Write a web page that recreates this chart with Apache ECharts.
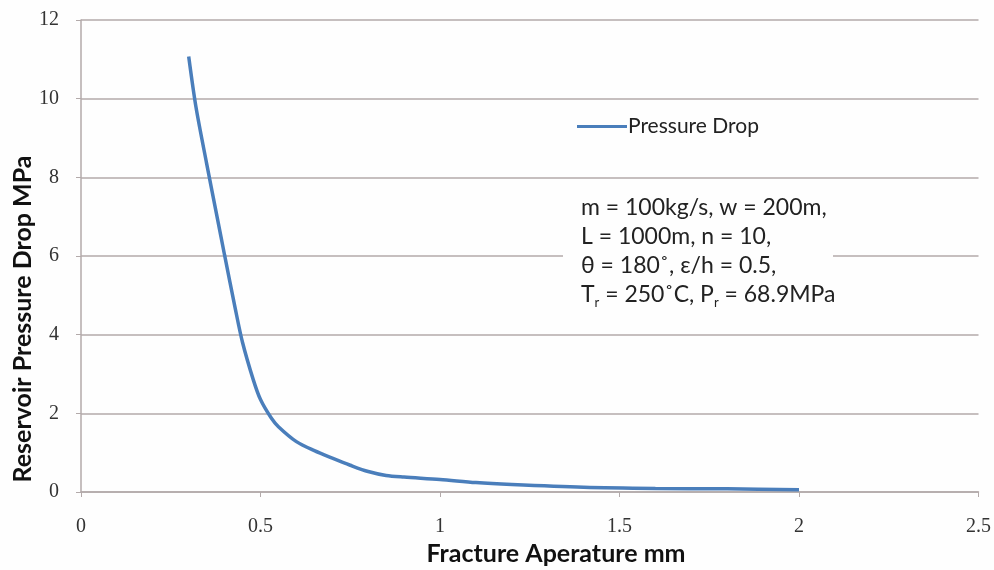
<!DOCTYPE html>
<html>
<head>
<meta charset="utf-8">
<script src="https://cdn.jsdelivr.net/npm/echarts@6/dist/echarts.min.js"></script>
<style>
  html, body { margin: 0; padding: 0; background: #fefefe; }
  #chart { width: 994px; height: 570px; }
</style>
</head>
<body>
<div id="chart"></div>
<script>
// fracture aperture (mm) vs reservoir pressure drop (MPa)
const aperture = [0.30, 0.32, 0.35, 0.38, 0.40, 0.43, 0.45, 0.48, 0.50, 0.53, 0.55, 0.60, 0.65,
    0.70, 0.75, 0.80, 0.85, 0.90, 1.00, 1.10, 1.20, 1.40, 1.60, 1.80, 2.00]
const pressureDrop = [11.07, 9.8, 8.35, 6.95, 6.02, 4.65, 3.8, 2.85, 2.35, 1.88, 1.66, 1.28, 1.05,
    0.86, 0.68, 0.52, 0.42, 0.38, 0.32, 0.24, 0.19, 0.12, 0.09, 0.08, 0.06]
const seriesName = 'Pressure Drop'
const xTitle = 'Fracture Aperature mm'
const yTitle = 'Reservoir Pressure Drop MPa'
const notes = [
    'm = 100kg/s, w = 200m,',
    'L = 1000m, n = 10,',
    'θ = 180˚, ε/h = 0.5,',
    'T{sub|r} = 250˚C, P{sub|r} = 68.9MPa'
]

const lineColor = '#4a7ebb'
const gridColor = '#b3aaaa'
const sansFont = 'Lato, "Open Sans", sans-serif'
const serifFont = '"Liberation Serif", "DejaVu Serif", serif'

const chart = echarts.init(document.getElementById('chart'))

const option = {
    backgroundColor: '#fefefe',
    animation: false,
    grid: {
        left: 81,
        right: 12,
        top: 20,
        bottom: 78
    },
    legend: {
        left: 572,
        top: 111,
        icon: 'rect',
        itemWidth: 50,
        itemHeight: 3,
        itemGap: 4,
        textStyle: {
            fontFamily: sansFont,
            fontSize: 21,
            color: '#222',
            padding: [0, 0, 0, -4]
        },
        data: [seriesName]
    },
    xAxis: {
        type: 'value',
        min: 0,
        max: 2.5,
        interval: 0.5,
        axisLine: { lineStyle: { color: gridColor, width: 1.5 } },
        axisTick: { show: true, inside: false, length: 5, lineStyle: { color: gridColor } },
        axisLabel: {
            fontFamily: serifFont,
            fontSize: 20,
            color: '#333',
            margin: 25,
            formatter: v => String(v)
        },
        splitLine: { show: false }
    },
    yAxis: {
        type: 'value',
        min: 0,
        max: 12,
        interval: 2,
        axisLine: { show: true, lineStyle: { color: gridColor, width: 1.5 } },
        axisTick: { show: true, length: 5, lineStyle: { color: gridColor } },
        axisLabel: {
            fontFamily: serifFont,
            fontSize: 20,
            color: '#333',
            margin: 22
        },
        splitLine: { show: true, lineStyle: { color: gridColor, width: 1.5 } }
    },
    graphic: [
        {
            type: 'text',
            x: 23,
            y: 319,
            rotation: Math.PI / 2,
            style: {
                text: yTitle,
                fontFamily: sansFont,
                fontSize: 25,
                fontWeight: 'bold',
                fill: '#111',
                align: 'center',
                verticalAlign: 'middle'
            }
        },
        {
            type: 'text',
            x: 556,
            y: 554,
            style: {
                text: xTitle,
                fontFamily: sansFont,
                fontSize: 25,
                fontWeight: 'bold',
                fill: '#111',
                align: 'center',
                verticalAlign: 'middle'
            }
        },
        {
            type: 'rect',
            shape: { x: 563, y: 192, width: 270, height: 116 },
            style: { fill: '#fefefe' },
            z: 50
        },
        {
            type: 'text',
            x: 581,
            y: 193,
            z: 51,
            style: {
                text: notes.join('\n'),
                fontFamily: sansFont,
                fontSize: 23,
                lineHeight: 29,
                fill: '#222',
                rich: {
                    sub: {
                        fontFamily: sansFont,
                        fontSize: 13,
                        fill: '#222',
                        verticalAlign: 'bottom'
                    }
                }
            }
        }
    ],
    series: [
        {
            name: seriesName,
            type: 'line',
            smooth: 0.3,
            showSymbol: false,
            lineStyle: { color: lineColor, width: 3.5 },
            itemStyle: { color: lineColor },
            data: aperture.map((x, i) => [x, pressureDrop[i]])
        }
    ]
}

chart.setOption(option)
</script>
</body>
</html>
